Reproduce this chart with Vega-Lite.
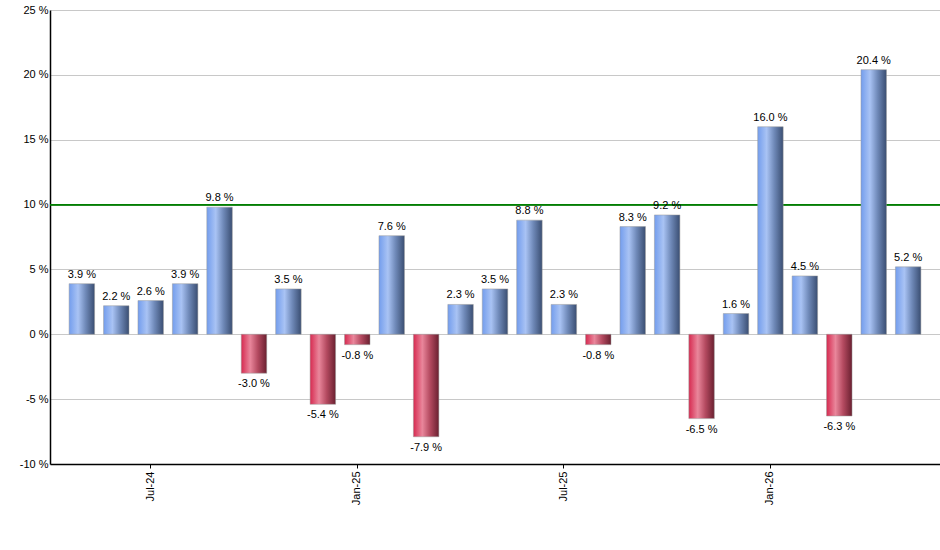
{
  "$schema": "https://vega.github.io/schema/vega-lite/v6.json",
  "description": "Monthly returns, May-24 to May-26",
  "autosize": "none",
  "padding": {"left": 50, "top": 10, "right": 0, "bottom": 86},
  "width": 890,
  "height": 454,
  "background": "white",
  "config": {
    "font": "Liberation Sans",
    "view": {"stroke": null}
  },
  "data": {
    "values": [
      {"month": "May-24", "v": 3.9},
      {"month": "Jun-24", "v": 2.2},
      {"month": "Jul-24", "v": 2.6},
      {"month": "Aug-24", "v": 3.9},
      {"month": "Sep-24", "v": 9.8},
      {"month": "Oct-24", "v": -3.0},
      {"month": "Nov-24", "v": 3.5},
      {"month": "Dec-24", "v": -5.4},
      {"month": "Jan-25", "v": -0.8},
      {"month": "Feb-25", "v": 7.6},
      {"month": "Mar-25", "v": -7.9},
      {"month": "Apr-25", "v": 2.3},
      {"month": "May-25", "v": 3.5},
      {"month": "Jun-25", "v": 8.8},
      {"month": "Jul-25", "v": 2.3},
      {"month": "Aug-25", "v": -0.8},
      {"month": "Sep-25", "v": 8.3},
      {"month": "Oct-25", "v": 9.2},
      {"month": "Nov-25", "v": -6.5},
      {"month": "Dec-25", "v": 1.6},
      {"month": "Jan-26", "v": 16.0},
      {"month": "Feb-26", "v": 4.5},
      {"month": "Mar-26", "v": -6.3},
      {"month": "Apr-26", "v": 20.4},
      {"month": "May-26", "v": 5.2}
    ]
  },
  "transform": [
    {"calculate": "replace(format(datum.v, '.1f'), '\u2212', '-') + ' %'", "as": "label"}
  ],
  "encoding": {
    "x": {
      "field": "month",
      "type": "ordinal",
      "sort": null,
      "title": null,
      "scale": {
        "domain": ["May-24", "Jun-24", "Jul-24", "Aug-24", "Sep-24", "Oct-24", "Nov-24", "Dec-24",
                   "Jan-25", "Feb-25", "Mar-25", "Apr-25", "May-25", "Jun-25", "Jul-25", "Aug-25",
                   "Sep-25", "Oct-25", "Nov-25", "Dec-25", "Jan-26", "Feb-26", "Mar-26", "Apr-26", "May-26"],
        "paddingInner": 0.26,
        "paddingOuter": 0.555
      },
      "axis": {
        "values": ["Jul-24", "Jan-25", "Jul-25", "Jan-26"],
        "labelAngle": -90,
        "labelAlign": "right",
        "labelBaseline": "middle",
        "labelFontSize": 11,
        "labelColor": "black",
        "labelPadding": 3,
        "tickSize": 4,
        "tickColor": "black",
        "domainColor": "black",
        "domainWidth": 1.5,
        "grid": false
      }
    },
    "y": {
      "field": "v",
      "type": "quantitative",
      "title": null,
      "scale": {"domain": [-10, 25], "nice": false, "zero": false},
      "axis": {
        "values": [-10, -5, 0, 5, 10, 15, 20, 25],
        "labelExpr": "datum.value + ' %'",
        "labelFontSize": 11,
        "labelColor": "black",
        "labelPadding": 2,
        "ticks": false,
        "domainColor": "black",
        "domainWidth": 1.5,
        "gridColor": "#c8c8c8",
        "gridWidth": 1
      }
    }
  },
  "layer": [
    {
      "mark": {"type": "rule", "color": "#008000", "strokeWidth": 1},
      "encoding": {"x": null, "y": {"datum": 10}}
    },
    {
      "transform": [{"filter": "datum.v >= 0"}],
      "mark": {
        "type": "bar",
        "stroke": "#9a9a9a",
        "strokeWidth": 0.5,
        "color": {
          "gradient": "linear",
          "x1": 0, "y1": 0, "x2": 1, "y2": 0,
          "stops": [
            {"offset": 0, "color": "#739ded"},
            {"offset": 0.35, "color": "#a9c3f4"},
            {"offset": 0.65, "color": "#6f89b8"},
            {"offset": 1, "color": "#3a4e72"}
          ]
        }
      },
      "encoding": {"y2": {"datum": 0}}
    },
    {
      "transform": [{"filter": "datum.v < 0"}],
      "mark": {
        "type": "bar",
        "stroke": "#9a9a9a",
        "strokeWidth": 0.5,
        "color": {
          "gradient": "linear",
          "x1": 0, "y1": 0, "x2": 1, "y2": 0,
          "stops": [
            {"offset": 0, "color": "#d62a50"},
            {"offset": 0.35, "color": "#e9869b"},
            {"offset": 0.65, "color": "#b44a60"},
            {"offset": 1, "color": "#6a2030"}
          ]
        }
      },
      "encoding": {"y2": {"datum": 0}}
    },
    {
      "transform": [{"filter": "datum.v >= 0"}],
      "mark": {"type": "text", "baseline": "bottom", "dy": -4, "fontSize": 11, "color": "black"},
      "encoding": {"text": {"field": "label"}}
    },
    {
      "transform": [{"filter": "datum.v < 0"}],
      "mark": {"type": "text", "baseline": "top", "dy": 5, "fontSize": 11, "color": "black"},
      "encoding": {"text": {"field": "label"}}
    }
  ]
}
